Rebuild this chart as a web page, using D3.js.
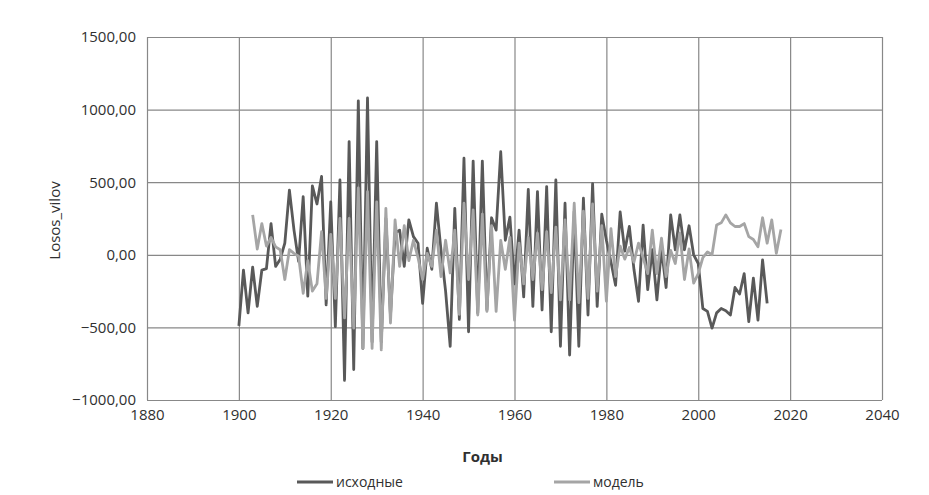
<!DOCTYPE html>
<html>
<head>
<meta charset="utf-8">
<script src="https://cdn.jsdelivr.net/npm/d3@7"></script>
<style>
  body { margin: 0; background: #fff; }
  text { font-family: "Open Sans", "DejaVu Sans", sans-serif; fill: #303030; }
</style>
</head>
<body>
<div id="chart"></div>
<script>
// years of each series
var yearsOrig = d3.range(1900, 2016);
var yearsModel = d3.range(1903, 2019);

// "исходные" 1900..2015
var valuesOrig = [
  -490, -105, -400, -85, -355, -105, -95, 215, -80, -30,
  80, 445, 170, -45, 400, -285, 475, 350, 540, -345,
  365, -495, 515, -865, 780, -790, 1060, -645, 1080, -600,
  780, -600, 250, -420, 150, 170, -80, 240, 125, 80,
  -335, 45, -100, 355, 30, -250, -630, 320, -445, 665,
  -530, 645, -400, 645, -380, 255, 170, 710, 100, 260,
  -200, 170, -290, 450, -355, 435, -380, 470, -530, 515,
  -630, 355, -690, 300, -630, 390, -415, 490, -355, 280,
  100, -50, -210, 295, 25, 195, -100, -320, 205, -240,
  35, -310, 40, -225, 275, 35, 275, 35, 200, 0,
  -60, -370, -390, -505, -400, -370, -385, -415, -225, -270,
  -130, -460, -160, -450, -35, -335
];

// "модель" 1903..2018
var valuesModel = [
  275, 40, 215, 60, 120, 55, 35, -170, 35, 10,
  -10, -265, -40, -250, -200, 160, -300, 140, -300, 250,
  -435, 250, -505, 460, -645, 435, -645, 365, -655, 320,
  -470, 240, -80, 200, -40, 100, -20, -170, 10, -80,
  170, -150, 100, -125, 170, -410, 355, -170, 310, -415,
  280, -390, 200, -390, 100, -100, 120, -450, 80, -200,
  120, -170, 150, -240, 160, -260, 190, -310, 240, -310,
  355, -330, 300, -300, 350, -250, 200, -320, 180, -150,
  60, -30, 50, -50, 80, -20, -130, 170, -130, 115,
  -150, 30, -60, 150, -170, 40, -195, -130, -20, 20,
  0, 205, 220, 275, 220, 195, 195, 215, 125, 105,
  55, 255, 80, 240, 10, 175
];

var seriesNames = ["исходные", "модель"];
var seriesColors = ["#595959", "#a5a5a5"];
var xTicks = [1880, 1900, 1920, 1940, 1960, 1980, 2000, 2020, 2040];
var yTicks = [-1000, -500, 0, 500, 1000, 1500];

var margin = {top: 37, right: 47, bottom: 95, left: 147},
    width = 929 - margin.left - margin.right,
    height = 495 - margin.top - margin.bottom;

var svg = d3.select("#chart")
  .append("svg")
    .attr("width", 929)
    .attr("height", 495)
  .append("g")
    .attr("transform", "translate(" + margin.left + "," + margin.top + ")");

var ru = d3.formatLocale({decimal: ",", thousands: "", grouping: [3], currency: ["", ""]});
var fmt = ru.format(".2f");

var x = d3.scaleLinear().domain([1880, 2040]).range([0, width]);
var y = d3.scaleLinear().domain([-1000, 1500]).range([height, 0]);

// horizontal grid + y labels
var gy = svg.append("g")
  .call(d3.axisLeft(y).tickValues(yTicks).tickSize(-width).tickSizeOuter(0).tickPadding(11).tickFormat(fmt));
gy.select(".domain").remove();
gy.selectAll("line").attr("stroke", "#888888").attr("stroke-width", 1.2);
gy.selectAll("text").style("font-size", "15px").attr("fill", "#303030");

// vertical grid + x labels
var gx = svg.append("g")
  .attr("transform", "translate(0," + height + ")")
  .call(d3.axisBottom(x).tickValues(xTicks).tickSize(-height).tickSizeOuter(0).tickPadding(9).tickFormat(d3.format("d")));
gx.select(".domain").remove();
gx.selectAll("line").attr("stroke", "#888888").attr("stroke-width", 1.2);
gx.selectAll("text").style("font-size", "15px").attr("fill", "#303030");

// axis titles
svg.append("text")
  .attr("transform", "rotate(-90)")
  .attr("x", -(height / 2) - 2)
  .attr("y", -87)
  .attr("text-anchor", "middle")
  .style("font-size", "15px")
  .text("Losos_vilov");

svg.append("text")
  .attr("x", x(1960) - 32)
  .attr("y", height + 62)
  .attr("text-anchor", "middle")
  .style("font-size", "15px")
  .style("font-weight", "bold")
  .text("Годы");

// lines
var line = d3.line()
  .x(function(d) { return x(d.year); })
  .y(function(d) { return y(d.value); });

var dataOrig = yearsOrig.map(function(yr, i) { return {year: yr, value: valuesOrig[i]}; });
var dataModel = yearsModel.map(function(yr, i) { return {year: yr, value: valuesModel[i]}; });

[dataOrig, dataModel].forEach(function(data, i) {
  svg.append("path")
    .datum(data)
    .attr("fill", "none")
    .attr("stroke", seriesColors[i])
    .attr("stroke-width", 2.8)
    .attr("stroke-linejoin", "round")
    .attr("d", line);
});

// legend
var legendX = [150, 407];
seriesNames.forEach(function(name, i) {
  var g = svg.append("g")
    .attr("transform", "translate(" + legendX[i] + "," + (height + 82) + ")");
  g.append("line")
    .attr("x1", 0).attr("x2", 36)
    .attr("y1", 0).attr("y2", 0)
    .attr("stroke", seriesColors[i])
    .attr("stroke-width", 2.8);
  g.append("text")
    .attr("x", 39)
    .attr("dy", "0.35em")
    .style("font-size", "14px")
    .text(name);
});
</script>
</body>
</html>
